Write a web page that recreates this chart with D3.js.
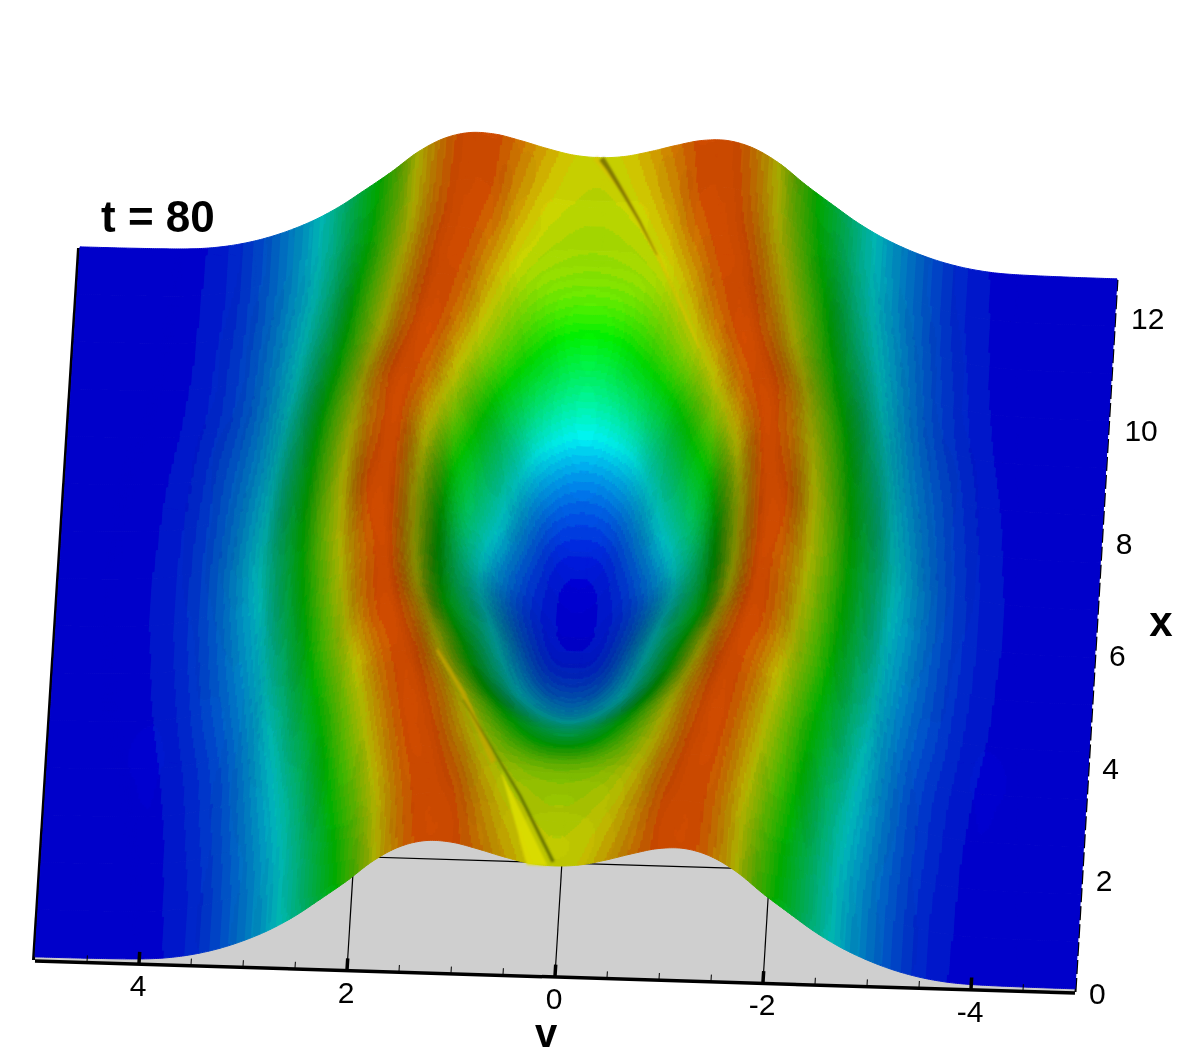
<!DOCTYPE html>
<html>
<head>
<meta charset="utf-8">
<script src="https://cdn.jsdelivr.net/npm/d3@7"></script>
<style>
html,body{margin:0;background:#fff}
svg{display:block}
text{font-family:"Liberation Sans",Arial,sans-serif;fill:#000}
</style>
</head>
<body>
<svg id="chart" width="1177" height="1056">
  <defs><filter id="soft" x="-20%" y="-20%" width="140%" height="140%"><feGaussianBlur stdDeviation="1"/></filter></defs>
</svg>
<script>
// values: one quarter of f(x,v), the plot mirrors about v=0 and x=6.28
const vCols = [0,.25,.5,.75,1,1.25,1.5,1.75,2,2.25,2.5,2.75,3,3.25,3.5,3.75,4,4.5,5];
const xRows = [0,1.05,2.09,3.14,4.19,5.24,6.283];
const surfaceRows = [
  [.83,.845,.89,.945,.99,.995,.94,.825,.665,.52,.38,.265,.175,.105,.055,.024,.01,.003,.001],
  [.80,.81,.84,.90,.975,1,.955,.845,.70,.55,.395,.27,.18,.11,.055,.027,.011,.003,.001],
  [.72,.73,.76,.82,.91,.985,.985,.895,.76,.615,.44,.30,.20,.12,.065,.03,.013,.003,.001],
  [.47,.50,.58,.69,.81,.93,1,.95,.83,.685,.52,.35,.225,.135,.075,.037,.017,.004,.001],
  [.20,.23,.31,.45,.62,.79,.94,.995,.925,.77,.61,.42,.26,.165,.10,.049,.023,.005,.001],
  [.05,.07,.16,.30,.45,.60,.82,.98,.955,.825,.67,.48,.30,.195,.115,.06,.027,.006,.001],
  [.01,.03,.085,.19,.34,.52,.78,.97,.985,.85,.70,.51,.33,.215,.125,.065,.03,.006,.001]
];
const vTicks = [4,2,0,-2,-4];
const vMinor = [4.5,3.5,3,2.5,1.5,1,.5,-.5,-1,-1.5,-2.5,-3,-3.5,-4.5];
const xTicks = [0,2,4,6,8,10,12];
const floorGridV = [4,2,0,-2,-4];
const floorGridX = [2];

// thin filaments on the surface, v / x / height along each one
const lowDarkV = [.02,.375,.62,.99], lowDarkX = [.05,1.18,1.9,3.15], lowDarkF = [.84,.85,.83,.72];
const lowGoldV = [.65,.99,1.26], lowGoldX = [1.78,3.05,3.72], lowGoldF = [.84,.82,.85];
const wedgeV = [.58,.27,.07], wedgeX = [1.61,0,0], wedgeF = [.86,.83,.83];
const upDarkV = [-.03,-.1,-.25,-.43,-.62], upDarkX = [12.55,12.4,12,11.49,10.85], upDarkF = [.83,.82,.82,.82,.84];
const upGoldV = [.03,-.25,-.62,-.87,-1.09], upGoldX = [12.56,12,10.85,9.94,9.13], upGoldF = [.83,.83,.85,.87,.88];

const stopF = [0,.30,.60,.84,1];
const stopC = ["#0000ff","#00ffff","#00ff00","#ffff00","#ff5000"];
const bands = 44;

const svg = d3.select("#chart");
const colorScale = d3.scaleLinear().domain(stopF).range(stopC).interpolate(d3.interpolateRgb);

// the plot is a nearly affine view, so each axis gets its own screen offset
const vSx = d3.scaleLinear().domain([5,-5]).range([35,1075]);
const vSy = d3.scaleLinear().domain([5,-5]).range([960,992]);
const xSx = d3.scaleLinear().domain([0,12.566]).range([0,43.5]);
const xSy = d3.scaleLinear().domain([0,12.566]).range([0,-710]);
const fFront = d3.scaleLinear().domain([0,12.566]).range([129,127]);
function floorPt(v,x){ return [vSx(v)+xSx(x)*(1+v*.007), vSy(v)+xSy(x)]; }
function project(v,x,f){ let p = floorPt(v,x); return [p[0], p[1]-3-f*fFront(x)]; }

// cubic through the read values, only used to shade between them
function spline(xs,ys){
  let n = xs.length, m = ys.map((y,i)=>{
    let a = Math.max(i-1,0), b = Math.min(i+1,n-1);
    return (ys[b]-ys[a])/(xs[b]-xs[a]);
  });
  return function(t){
    let i = Math.min(Math.max(d3.bisectRight(xs,t)-1,0),n-2);
    let h = xs[i+1]-xs[i], s = (t-xs[i])/h, s2 = s*s, s3 = s2*s;
    return (2*s3-3*s2+1)*ys[i]+(s3-2*s2+s)*h*m[i]+(-2*s3+3*s2)*ys[i+1]+(s3-s2)*h*m[i+1];
  };
}

const vAll = vCols.slice(1).reverse().map(d=>-d).concat(vCols);
const xAll = xRows.concat(xRows.slice(0,-1).reverse().map(d=>12.566-d));
const rowsAll = surfaceRows.concat(surfaceRows.slice(0,-1).reverse())
  .map(r=>r.slice(1).reverse().concat(r));

const nv = 500, nx = 360;
const fineV = d3.range(nv+1).map(i=>-5+10*i/nv);
const fineX = d3.range(nx+1).map(i=>12.566*i/nx);
const fineRows = rowsAll.map(r=>{ let s = spline(vAll,r); return fineV.map(s); });
const cols = fineV.map((d,j)=>{ let s = spline(xAll,fineRows.map(r=>r[j])); return fineX.map(s); });
function F(i,j){ return Math.max(0,Math.min(1,cols[j][i])); }
const dv = 10/nv, dx = 12.566/nx;

// light comes from the low x side, flat parts sit at 0.8
function shadeOf(i,j){
  let a = (F(i,j+1)+F(i+1,j+1)-F(i,j)-F(i+1,j))/(2*dv);
  let b = (F(i+1,j)+F(i+1,j+1)-F(i,j)-F(i,j+1))/(2*dx);
  let p = 1.2*a, q = 1.3*b;
  let s = (.6*q+.8)/Math.sqrt(1+p*p+q*q);
  return Math.max(.3,Math.min(1,s));
}
function cellKey(i,j){
  let f = (F(i,j)+F(i+1,j)+F(i,j+1)+F(i+1,j+1))/4;
  return {band:Math.min(bands-1,Math.floor(f*bands)), s:Math.round(shadeOf(i,j)*48)/48};
}

// floor, drawn first
svg.append("path")
  .attr("d",d3.line()([floorPt(5,0),floorPt(-5,0),floorPt(-5,12.566),floorPt(5,12.566)])+"Z")
  .attr("fill","#cfcfcf");
svg.selectAll("line.gridv").data(floorGridV).join("line").attr("class","gridv")
  .attr("x1",d=>floorPt(d,0)[0]).attr("y1",d=>floorPt(d,0)[1])
  .attr("x2",d=>floorPt(d,12.566)[0]).attr("y2",d=>floorPt(d,12.566)[1])
  .attr("stroke","#000").attr("stroke-width",1.2);
svg.selectAll("line.gridx").data(floorGridX).join("line").attr("class","gridx")
  .attr("x1",d=>floorPt(5,d)[0]).attr("y1",d=>floorPt(5,d)[1])
  .attr("x2",d=>floorPt(-5,d)[0]).attr("y2",d=>floorPt(-5,d)[1])
  .attr("stroke","#000").attr("stroke-width",1.2);

// side lines stick out from under the surface
svg.append("line")
  .attr("x1",floorPt(5,0)[0]-1.5).attr("y1",floorPt(5,0)[1])
  .attr("x2",floorPt(5,12.566)[0]-1.5).attr("y2",floorPt(5,12.566)[1]-2)
  .attr("stroke","#000").attr("stroke-width",3);
svg.append("line")
  .attr("x1",floorPt(-5,0)[0]+.5).attr("y1",floorPt(-5,0)[1])
  .attr("x2",floorPt(-5,12.566)[0]+.5).attr("y2",floorPt(-5,12.566)[1]-2)
  .attr("stroke","#000").attr("stroke-width",2).attr("stroke-dasharray","14 4");

// back rows first; inside a block of rows cells of one colour share a path
const blockRows = 24;
let blocks = [];
for(let top=nx;top>0;top-=blockRows){
  let paths = new Map();
  for(let i=top-1;i>=Math.max(0,top-blockRows);i--){
    let j = 0;
    while(j<nv){
      let c = cellKey(i,j), k = j+1;
      while(k<nv){
        let c2 = cellKey(i,k);
        if(c2.band!=c.band || c2.s!=c.s) break;
        k++;
      }
      let pts = [];
      for(let q=j;q<=k;q++) pts.push(project(fineV[q],fineX[i],F(i,q)));
      for(let q=k;q>=j;q--) pts.push(project(fineV[q],fineX[i+1],F(i+1,q)));
      let base = d3.rgb(colorScale(c.band==0?0:(c.band+.5)/bands));
      let col = d3.rgb(base.r*c.s,base.g*c.s,base.b*c.s).formatHex();
      paths.set(col,(paths.get(col)||"")+d3.line()(pts)+"Z");
      j = k;
    }
  }
  blocks.push(Array.from(paths,([col,d])=>({col:col,d:d})));
}
svg.selectAll("g.block").data(blocks).join("g").attr("class","block")
  .selectAll("path").data(d=>d).join("path")
  .attr("d",d=>d.d).attr("fill",d=>d.col).attr("stroke",d=>d.col).attr("stroke-width",1);

// tapered band along a filament
function ribbon(vs,xs,fs,w0,w1){
  let p = vs.map((v,i)=>project(v,xs[i],fs[i]));
  let left = [], right = [];
  p.forEach((q,i)=>{
    let a = p[Math.max(i-1,0)], b = p[Math.min(i+1,p.length-1)];
    let ex = b[0]-a[0], ey = b[1]-a[1], l = Math.hypot(ex,ey);
    let w = (w0+(w1-w0)*i/(p.length-1))/2;
    left.push([q[0]-ey/l*w,q[1]+ex/l*w]);
    right.push([q[0]+ey/l*w,q[1]-ex/l*w]);
  });
  return d3.line()(left.concat(right.reverse()))+"Z";
}
const marks = svg.append("g").attr("filter","url(#soft)");
marks.append("path").attr("d",ribbon(lowGoldV,lowGoldX,lowGoldF,6,3)).attr("fill","#c8a800").attr("opacity",.75);
marks.append("path")
  .attr("d",d3.line()(wedgeV.map((v,i)=>project(v,wedgeX[i],wedgeF[i])))+"Z")
  .attr("fill","#dede00").attr("opacity",.85);
marks.append("path").attr("d",ribbon(lowDarkV,lowDarkX,lowDarkF,3.5,1)).attr("fill","#4e5a00").attr("opacity",.75);
marks.append("path").attr("d",ribbon(upGoldV,upGoldX,upGoldF,5,2)).attr("fill","#d8c000").attr("opacity",.7);
marks.append("path").attr("d",ribbon(upDarkV,upDarkX,upDarkF,6,1)).attr("fill","#6e6400").attr("opacity",.8);

// v axis along the front edge
const axis = svg.append("g");
axis.append("line")
  .attr("x1",floorPt(5,0)[0]).attr("y1",floorPt(5,0)[1]+1)
  .attr("x2",floorPt(-5,0)[0]).attr("y2",floorPt(-5,0)[1]+1)
  .attr("stroke","#000").attr("stroke-width",3.5);
axis.selectAll("line.major").data(vTicks).join("line").attr("class","major")
  .attr("x1",d=>floorPt(d,0)[0]).attr("y1",d=>floorPt(d,0)[1])
  .attr("x2",d=>floorPt(d,.2)[0]).attr("y2",d=>floorPt(d,.2)[1])
  .attr("stroke","#000").attr("stroke-width",3.5);
axis.selectAll("line.minor").data(vMinor).join("line").attr("class","minor")
  .attr("x1",d=>floorPt(d,0)[0]).attr("y1",d=>floorPt(d,0)[1])
  .attr("x2",d=>floorPt(d,.11)[0]).attr("y2",d=>floorPt(d,.11)[1])
  .attr("stroke","#000").attr("stroke-width",1);
axis.selectAll("text.vtick").data(vTicks).join("text").attr("class","vtick")
  .attr("x",d=>floorPt(d,0)[0]-1).attr("y",d=>floorPt(d,0)[1]+33)
  .attr("text-anchor","middle").attr("font-size",30).text(d=>d);
axis.selectAll("text.xtick").data(xTicks).join("text").attr("class","xtick")
  .attr("x",d=>floorPt(-5,d)[0]+14+(d>9?2:0)).attr("y",d=>floorPt(-5,d)[1]+12+d*.25)
  .attr("font-size",30).text(d=>d);

svg.append("text").attr("x",546).attr("y",1047).attr("text-anchor","middle")
  .attr("font-size",40).attr("font-weight","bold").text("v");
svg.append("text").attr("x",1161).attr("y",636).attr("text-anchor","middle")
  .attr("font-size",42).attr("font-weight","bold").text("x");
svg.append("text").attr("x",101).attr("y",232)
  .attr("font-size",44).attr("font-weight","bold").text("t = 80");
</script>
</body>
</html>
